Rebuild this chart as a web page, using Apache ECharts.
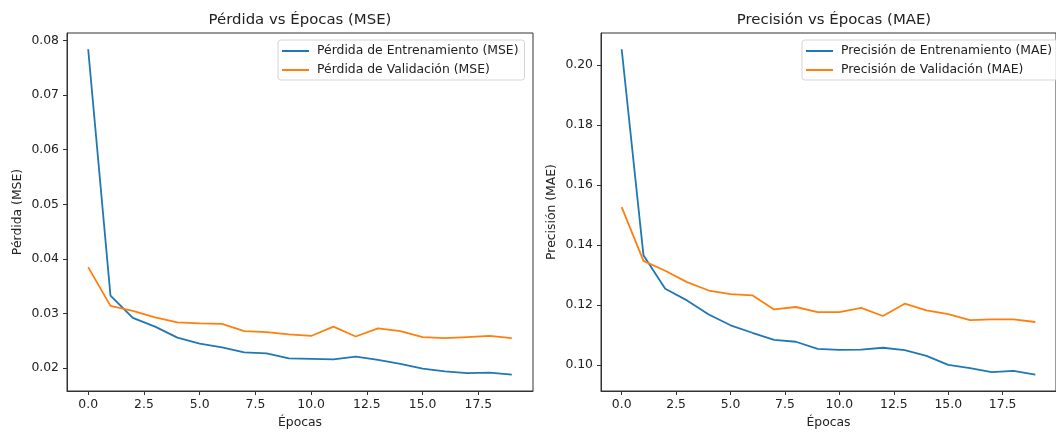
<!DOCTYPE html>
<html>
<head>
<meta charset="utf-8">
<script src="https://cdn.jsdelivr.net/npm/echarts@6/dist/echarts.min.js"></script>
<style>html,body{margin:0;padding:0;background:#fff;}#c{width:1056px;height:434px;}</style>
</head>
<body>
<div id="c"></div>
<script>
const epochs = [0,1,2,3,4,5,6,7,8,9,10,11,12,13,14,15,16,17,18,19];
const lossTrain = [0.0784,0.0333,0.0292,0.0276,0.0256,0.0245,0.0238,0.0229,0.0227,0.0218,0.0217,0.0216,0.0221,0.0215,0.0208,0.0199,0.0194,0.0191,0.0192,0.0188];
const lossVal   = [0.0385,0.0314,0.0305,0.0293,0.0284,0.0282,0.0281,0.0268,0.0266,0.0262,0.0259,0.0276,0.0258,0.0273,0.0268,0.0257,0.0255,0.0257,0.0259,0.0255];
const maeTrain  = [0.2053,0.1366,0.1254,0.1215,0.1168,0.1132,0.1107,0.1083,0.1077,0.1053,0.1050,0.1051,0.1057,0.1049,0.1030,0.1000,0.0989,0.0976,0.0980,0.0967];
const maeVal    = [0.1526,0.1347,0.1314,0.1276,0.1248,0.1236,0.1232,0.1185,0.1193,0.1176,0.1176,0.1190,0.1163,0.1204,0.1182,0.1169,0.1149,0.1152,0.1152,0.1143];
const xTicks = [0,2.5,5,7.5,10,12.5,15,17.5];
const lossTicks = [0.02,0.03,0.04,0.05,0.06,0.07,0.08];
const maeTicks = [0.10,0.12,0.14,0.16,0.18,0.20];
const names = {
  lossTitle: 'Pérdida vs Épocas (MSE)',
  maeTitle: 'Precisión vs Épocas (MAE)',
  lossTrain: 'Pérdida de Entrenamiento (MSE)',
  lossVal: 'Pérdida de Validación (MSE)',
  maeTrain: 'Precisión de Entrenamiento (MAE)',
  maeVal: 'Precisión de Validación (MAE)',
  xName: 'Épocas',
  lossY: 'Pérdida (MSE)',
  maeY: 'Precisión (MAE)'
};

const FONT = 'DejaVu Sans';
const TXT = '#222';
const AX = '#333';
const BLUE = '#1f77b4', ORANGE = '#ff7f0e';

function pad(arrs, frac) {
  let lo = Infinity, hi = -Infinity;
  arrs.forEach(a => a.forEach(v => { lo = Math.min(lo, v); hi = Math.max(hi, v); }));
  const m = (hi - lo) * frac;
  return [lo - m, hi + m];
}
const xr = [epochs[0] - (epochs[epochs.length-1]-epochs[0])*0.05, epochs[epochs.length-1] + (epochs[epochs.length-1]-epochs[0])*0.05];
const lr = pad([lossTrain, lossVal], 0.05);
const mr = pad([maeTrain, maeVal], 0.05);

function xAxisDef(gi) {
  return {
    type: 'value', gridIndex: gi, min: xr[0], max: xr[1],
    name: names.xName, nameLocation: 'middle', nameGap: 26,
    nameTextStyle: {color: TXT, fontFamily: FONT, fontSize: 12.4},
    axisLine: {show: true, onZero: false, lineStyle: {color: AX, width: 1}},
    axisTick: {show: true, length: 4, lineStyle: {color: AX, width: 1}, customValues: xTicks},
    axisLabel: {color: TXT, fontFamily: FONT, fontSize: 12.4, margin: 8, customValues: xTicks, formatter: v => v.toFixed(1)},
    splitLine: {show: false}
  };
}
function yAxisDef(gi, r, ticks, name) {
  return {
    type: 'value', gridIndex: gi, min: r[0], max: r[1],
    name: name, nameLocation: 'middle', nameGap: 43,
    nameTextStyle: {color: TXT, fontFamily: FONT, fontSize: 12.4},
    axisLine: {show: true, onZero: false, lineStyle: {color: AX, width: 1}},
    axisTick: {show: true, length: 4, lineStyle: {color: AX, width: 1}, customValues: ticks},
    axisLabel: {color: TXT, fontFamily: FONT, fontSize: 12.4, margin: 8, customValues: ticks, formatter: v => v.toFixed(2)},
    splitLine: {show: false}
  };
}
function series(name, data, color, xi) {
  return {
    name: name, type: 'line', xAxisIndex: xi, yAxisIndex: xi,
    data: epochs.map((e, i) => [e, data[i]]),
    showSymbol: false, symbol: 'none', smooth: false,
    lineStyle: {color: color, width: 1.8}, itemStyle: {color: color},
    animation: false
  };
}
function legendDef(left, items) {
  return {
    orient: 'vertical', left: left, top: 40,
    data: items, icon: 'rect', itemWidth: 27, itemHeight: 2, itemGap: 7,
    padding: [5, 6, 4, 4],
    backgroundColor: 'rgba(255,255,255,0.8)', borderColor: '#d5d5d5', borderWidth: 1, borderRadius: 3,
    textStyle: {color: TXT, fontFamily: FONT, fontSize: 12.4, padding: [0,0,0,3]},
    selectedMode: false
  };
}

const chart = echarts.init(document.getElementById('c'), null, {renderer: 'canvas'});
chart.setOption({
  animation: false,
  backgroundColor: '#fff',
  grid: [
    {left: 67, top: 33, width: 466, height: 360, show: true, borderColor: AX, borderWidth: 1, backgroundColor: 'transparent'},
    {left: 601, top: 33, width: 466, height: 360, show: true, borderColor: AX, borderWidth: 1, backgroundColor: 'transparent'}
  ],
  xAxis: [xAxisDef(0), xAxisDef(1)],
  yAxis: [yAxisDef(0, lr, lossTicks, names.lossY), yAxisDef(1, mr, maeTicks, names.maeY)],
  legend: [legendDef(278, [names.lossTrain, names.lossVal]), legendDef(802, [names.maeTrain, names.maeVal])],
  graphic: [
    {type: 'text', x: 300, y: 20, style: {text: names.lossTitle, fill: TXT, font: '14.9px "DejaVu Sans"', textAlign: 'center', textVerticalAlign: 'middle'}},
    {type: 'text', x: 834, y: 20, style: {text: names.maeTitle, fill: TXT, font: '14.9px "DejaVu Sans"', textAlign: 'center', textVerticalAlign: 'middle'}}
  ],
  series: [
    series(names.lossTrain, lossTrain, BLUE, 0),
    series(names.lossVal, lossVal, ORANGE, 0),
    series(names.maeTrain, maeTrain, BLUE, 1),
    series(names.maeVal, maeVal, ORANGE, 1)
  ]
});
</script>
</body>
</html>
